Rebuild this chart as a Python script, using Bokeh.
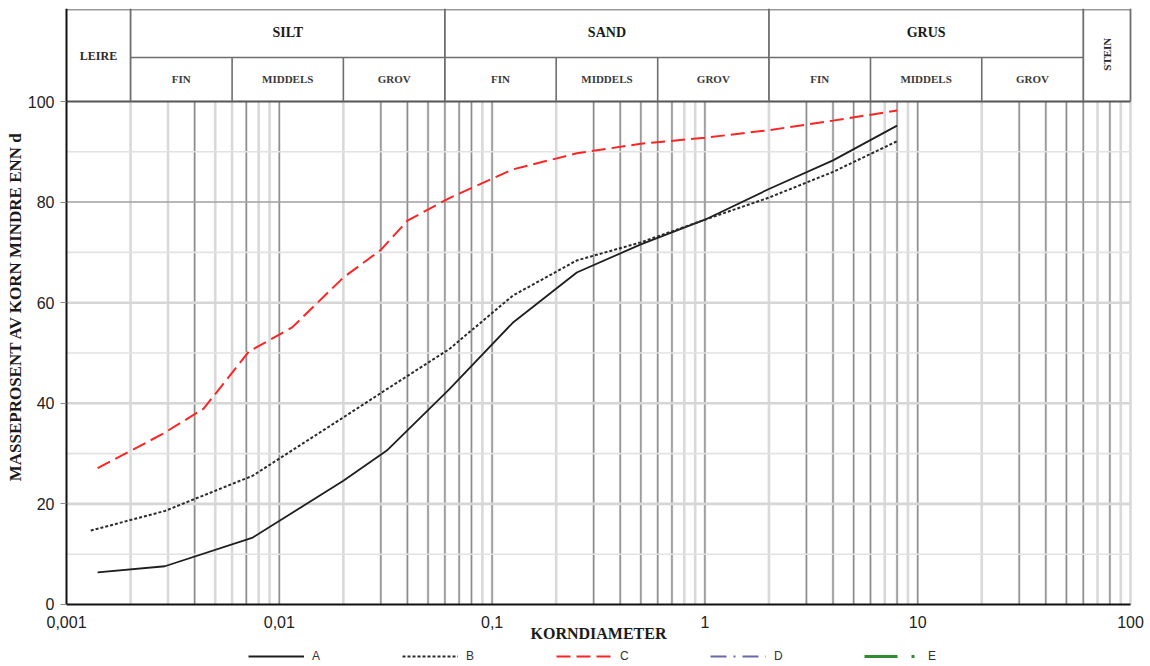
import math
from bokeh.plotting import figure
from bokeh.models import Range1d, FixedTicker, Legend, LegendItem, CustomJSTickFormatter
from bokeh.core.properties import value
from bokeh.embed import file_html
from bokeh.resources import INLINE

# ---------------- data ----------------
a_d = [0.0014, 0.0029, 0.0075, 0.02, 0.032, 0.063, 0.125, 0.25, 0.5, 1, 2, 4, 8]
a_p = [6.4, 7.6, 13.3, 24.6, 30.6, 42.8, 56.0, 66.0, 71.6, 76.5, 82.6, 88.3, 95.2]

b_d = [0.0013, 0.0029, 0.0075, 0.02, 0.032, 0.063, 0.125, 0.25, 0.5, 1, 2, 4, 8]
b_p = [14.7, 18.6, 25.6, 37.2, 42.8, 50.8, 61.4, 68.4, 72.0, 76.5, 80.9, 86.0, 92.1]

c_d = [0.0014, 0.0028, 0.0044, 0.0072, 0.0115, 0.02, 0.03, 0.04, 0.063, 0.125, 0.25, 0.5, 1, 2, 4, 8]
c_p = [27.1, 33.8, 38.9, 50.3, 55.1, 65.0, 70.5, 76.3, 80.8, 86.5, 89.7, 91.6, 92.8, 94.3, 96.2, 98.2]

# series D and E have no measured values (legend only)
d_d = [float("nan")]
d_p = [float("nan")]
e_d = [float("nan")]
e_p = [float("nan")]

series_names = ["A", "B", "C", "D", "E"]

x_ticks = [0.001, 0.01, 0.1, 1, 10, 100]
y_ticks = [0, 20, 40, 60, 80, 100]

decades = [0.001, 0.01, 0.1, 1, 10]
light_mult = [2, 3, 4, 5, 6, 7, 8, 9, 10]
dark_lines = [0.004, 0.007, 0.01, 0.03, 0.04, 0.05, 0.06, 0.07, 0.08, 0.1,
              0.3, 0.4, 0.5, 0.6, 0.7, 1, 3, 4, 5, 6, 8, 10, 30, 40, 50, 60, 80]
h_light = [10, 30, 50, 70, 90]
h_mid = [20, 40, 60]
h_dark = [80]

main_edges = [0.001, 0.002, 0.06, 2, 60, 100]
main_labels = ["SILT", "SAND", "GRUS"]
sub_edges = [0.002, 0.006, 0.02, 0.06, 0.2, 0.6, 2, 6, 20, 60]
sub_labels = ["FIN", "MIDDELS", "GROV"] * 3

X_LO, X_HI = 0.001, 100
X_MIN, X_MAX = 0.0005112, 116.36      # frame extends a little beyond the axis ends
Y_TOP = 118.49
Y_BOT = -11.93
Y_MID = 108.75

def gmean(a, b):
    return math.sqrt(a * b)

# ---------------- figure ----------------
p = figure(x_axis_type="log", x_range=Range1d(X_MIN, X_MAX), y_range=Range1d(Y_BOT, Y_TOP),
           frame_width=1140, frame_height=656, min_border_left=4, min_border_right=4,
           min_border_top=8, min_border_bottom=0,
           output_backend="svg", toolbar_location=None, background_fill_color="white")
p.outline_line_color = None
p.xgrid.visible = False
p.ygrid.visible = False

# vertical grid lines
light_x = [d * m for d in decades for m in light_mult]
p.segment(x0=light_x, y0=[0] * len(light_x), x1=light_x, y1=[100] * len(light_x),
          line_color="#d9d9d9", line_width=2.6)
p.segment(x0=dark_lines, y0=[0] * len(dark_lines), x1=dark_lines, y1=[100] * len(dark_lines),
          line_color="#8c8c8c", line_width=1.3)

# horizontal grid lines
for vals, col, w in [(h_light, "#e2e2e2", 1.6), (h_mid, "#d6d6d6", 2.6), (h_dark, "#a0a0a0", 1.5)]:
    p.segment(x0=[X_LO] * len(vals), y0=vals, x1=[X_HI] * len(vals), y1=vals,
              line_color=col, line_width=w)

# curves
ra = p.line(a_d, a_p, line_color="#1e1e1e", line_width=1.8)
rb = p.line(b_d, b_p, line_color="#2a2a2a", line_width=2.0, line_dash="3 2")
rc = p.line(c_d, c_p, line_color="#ff2424", line_width=2.0, line_dash="14 6")
rd = p.line(d_d, d_p, line_color="#6a6aa6", line_width=2.2, line_dash="16 7 2 7")
re = p.line(e_d, e_p, line_color="#2e8b2e", line_width=3.0, line_dash="33 14 3 6")

# header table lines
tcol = "#6e6e6e"
p.segment(x0=[X_LO], y0=[Y_TOP - 0.25], x1=[X_HI], y1=[Y_TOP - 0.25], line_color="#9a9a9a", line_width=1.5)
p.segment(x0=[X_LO], y0=[100], x1=[X_HI], y1=[100], line_color="#555555", line_width=2)
p.segment(x0=[main_edges[1]], y0=[Y_MID], x1=[main_edges[-2]], y1=[Y_MID], line_color=tcol, line_width=1.6)
mv = main_edges[1:]
p.segment(x0=mv, y0=[100] * len(mv), x1=mv, y1=[Y_TOP] * len(mv), line_color=tcol, line_width=1.8)
sv = [e for e in sub_edges if e not in main_edges]
p.segment(x0=sv, y0=[100] * len(sv), x1=sv, y1=[Y_MID] * len(sv), line_color=tcol, line_width=1.6)

# header texts
mx = [gmean(main_edges[i], main_edges[i + 1]) for i in range(1, 4)]
p.text(x=mx, y=[113.7] * 3, text=main_labels, text_align="center", text_baseline="middle",
       text_font=value("Liberation Serif"), text_font_style="bold", text_font_size="14px",
       text_color="#1a1a1a")
sx = [gmean(sub_edges[i], sub_edges[i + 1]) for i in range(len(sub_edges) - 1)]
p.text(x=sx, y=[104.4] * len(sx), text=sub_labels, text_align="center", text_baseline="middle",
       text_font=value("Liberation Serif"), text_font_style="bold", text_font_size="11px",
       text_color="#3a3a3a")
p.text(x=[gmean(0.001, 0.002)], y=[109.0], text=["LEIRE"], text_align="center", text_baseline="middle",
       text_font=value("Liberation Serif"), text_font_style="bold", text_font_size="12px",
       text_color="#2a2a2a")
p.text(x=[gmean(60, 100)], y=[109.4], text=["STEIN"], text_align="center", text_baseline="middle",
       angle=math.pi / 2,
       text_font=value("Liberation Serif"), text_font_style="bold", text_font_size="11px",
       text_color="#2a2a2a")

# axes
p.xaxis.fixed_location = 0
p.xaxis.bounds = (X_LO, X_HI)
p.xaxis.ticker = FixedTicker(ticks=x_ticks)
p.xaxis.formatter = CustomJSTickFormatter(code="return tick.toString().replace('.', ',');")
p.xaxis.minor_tick_line_color = None
p.xaxis.major_tick_line_color = None
p.xaxis.major_tick_out = 0
p.xaxis.major_label_standoff = 12
p.xaxis.axis_line_color = "#111111"
p.xaxis.axis_line_width = 2
p.xaxis.major_label_text_font = "Liberation Sans"
p.xaxis.major_label_text_font_size = "16px"
p.xaxis.major_label_text_color = "#222222"
p.xaxis.axis_label = "KORNDIAMETER"
p.xaxis.axis_label_text_font = "Liberation Serif"
p.xaxis.axis_label_text_font_style = "bold"
p.xaxis.axis_label_text_font_size = "16px"
p.xaxis.axis_label_text_color = "#1a1a1a"
p.xaxis.axis_label_standoff = -7

p.yaxis.fixed_location = X_LO
p.yaxis.bounds = (0, Y_TOP)
p.yaxis.ticker = FixedTicker(ticks=y_ticks)
p.yaxis.minor_tick_line_color = None
p.yaxis.major_tick_out = 6
p.yaxis.major_tick_in = 0
p.yaxis.major_tick_line_color = "#888888"
p.yaxis.major_label_standoff = 6
p.yaxis.axis_line_color = "#111111"
p.yaxis.axis_line_width = 2
p.yaxis.major_label_text_font = "Liberation Sans"
p.yaxis.major_label_text_font_size = "16px"
p.yaxis.major_label_text_color = "#222222"
p.yaxis.axis_label = "MASSEPROSENT AV KORN MINDRE ENN d"
p.yaxis.axis_label_text_font = "Liberation Serif"
p.yaxis.axis_label_text_font_style = "bold"
p.yaxis.axis_label_text_font_size = "17px"
p.yaxis.axis_label_text_color = "#1a1a1a"
p.yaxis.axis_label_standoff = 0

# legend at the bottom of the (extended) frame
legend = Legend(items=[LegendItem(label=n, renderers=[r]) for n, r in zip(series_names, [ra, rb, rc, rd, re])],
                orientation="horizontal", location=(244, 1),
                glyph_width=56, glyph_height=12, label_standoff=8, spacing=70,
                label_text_font="Liberation Sans", label_text_font_size="12px",
                label_text_color="#333333",
                border_line_color=None, background_fill_alpha=0, padding=0, margin=0)
p.add_layout(legend, "center")

open("out.html", "w").write(file_html(p, INLINE))
